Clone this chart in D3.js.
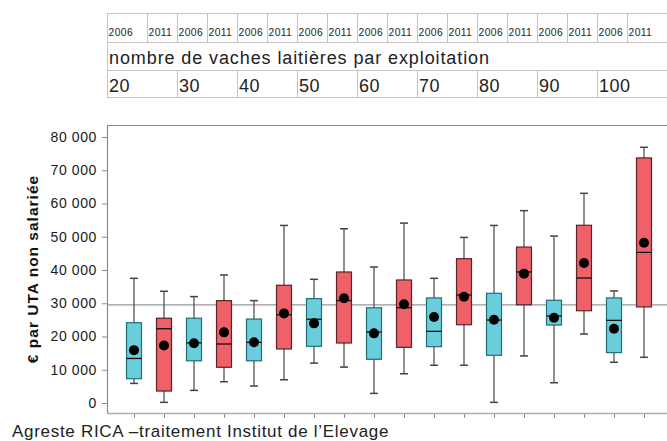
<!DOCTYPE html>
<html>
<head>
  <meta charset="UTF-8">
  <style>
    body { margin: 0; background: #fff; }
    svg { display: block; font-family: "Liberation Sans", Arial, sans-serif; }
  </style>
</head>
<body>
  <script src="https://d3js.org/d3.v7.min.js"></script>
  <script>
    // taille de troupeau (vaches laitières) et années
    var tailles = ['20', '30', '40', '50', '60', '70', '80', '90', '100'];
    var annees = ['2006', '2011'];
    var titreTable = 'nombre de vaches laitières par exploitation';

    // une boite par (taille, année), dans l'ordre 20-2006, 20-2011, 30-2006 ...
    var basMoustache = [5900, 200, 3800, 6400, 5100, 7000, 12000, 10800, 2900, 8800, 11350, 11350, 200, 14150, 6100, 20750, 12250, 13750];
    var q1 = [7300, 3600, 12700, 10750, 12700, 16250, 17050, 18050, 13150, 16750, 16950, 23550, 14350, 29550, 23450, 27750, 15150, 28900];
    var mediane = [13400, 22350, 18100, 17750, 18250, 26550, 25200, 30800, 21350, 28650, 21550, 32500, 24950, 39400, 26150, 37600, 24850, 45300];
    var q3 = [24150, 25500, 25500, 30800, 25250, 35400, 31400, 39400, 28650, 37000, 31600, 43400, 33000, 46900, 30900, 53450, 31600, 73700];
    var hautMoustache = [37500, 33600, 32000, 38500, 30800, 53400, 37200, 52400, 40900, 54100, 37500, 49800, 53400, 57850, 50200, 63050, 33700, 76900];
    var moyenne = [15900, 17300, 17950, 21250, 18250, 26950, 23950, 31500, 20950, 29700, 25850, 31950, 25050, 38900, 25650, 42100, 22350, 48200];

    var ligneRef = 29500;
    var yTicks = [0, 10000, 20000, 30000, 40000, 50000, 60000, 70000, 80000];

    var W = 667, H = 441;
    var svg = d3.select('body').append('svg').attr('width', W).attr('height', H);

    var boites = [];
    tailles.forEach(function(t, i) {
      annees.forEach(function(a, j) {
        var k = i * 2 + j;
        boites.push({ k: k, taille: t, annee: a, lo: basMoustache[k], q1: q1[k], med: mediane[k], q3: q3[k], hi: hautMoustache[k], moy: moyenne[k] });
      });
    });

    var x = d3.scalePoint().domain(d3.range(boites.length)).range([134, 644]);
    var y = d3.scaleLinear().domain([-3000, 83600]).range([413, 125]);
    var gauche = 107, droite = 667;

    // ---- tableau en haut
    var table = svg.append('g');
    var grisTable = '#c4c4c4';
    [13, 42, 70, 97].forEach(function(yy) {
      table.append('line').attr('x1', gauche).attr('x2', droite).attr('y1', yy + 0.5).attr('y2', yy + 0.5)
        .attr('stroke', grisTable);
    });
    table.append('line').attr('x1', gauche + 0.5).attr('x2', gauche + 0.5).attr('y1', 13).attr('y2', 97).attr('stroke', grisTable);

    // ligne des années
    boites.forEach(function(b, i) {
      var x0 = i === 0 ? gauche : x(i) - 17;
      if (i > 0) {
        table.append('line').attr('x1', Math.round(x0) + 0.5).attr('x2', Math.round(x0) + 0.5)
          .attr('y1', 13).attr('y2', 42).attr('stroke', grisTable);
      }
      table.append('text').attr('x', x0 + 1.5).attr('y', 36)
        .attr('font-size', 10.3).attr('letter-spacing', 0.4).attr('fill', '#222').text(b.annee);
    });

    table.append('text').attr('x', gauche + 2).attr('y', 64)
      .attr('font-size', 18).attr('letter-spacing', 0.9).attr('fill', '#222').text(titreTable);

    // ligne des tailles
    tailles.forEach(function(t, i) {
      var x0 = i === 0 ? gauche : x(i * 2) - 17;
      if (i > 0) {
        table.append('line').attr('x1', Math.round(x0) + 0.5).attr('x2', Math.round(x0) + 0.5)
          .attr('y1', 70).attr('y2', 97).attr('stroke', grisTable);
      }
      table.append('text').attr('x', x0 + 2).attr('y', 92)
        .attr('font-size', 18).attr('letter-spacing', 0.5).attr('fill', '#222').text(t);
    });

    // ---- cadre du graphique
    var gris = '#8a8a8a';
    svg.append('line').attr('x1', gauche).attr('x2', droite).attr('y1', 125.5).attr('y2', 125.5).attr('stroke', gris).attr('stroke-width', 1.2);
    svg.append('line').attr('x1', gauche + 0.5).attr('x2', gauche + 0.5).attr('y1', 125).attr('y2', 413).attr('stroke', gris).attr('stroke-width', 1.2);

    // axe Y
    var fmt = function(v) { return d3.format(',')(v).replace(/,/g, ' '); };
    var axeY = svg.append('g').attr('transform', 'translate(' + gauche + ',0)')
      .call(d3.axisLeft(y).tickValues(yTicks).tickSize(5).tickPadding(5).tickFormat(fmt));
    axeY.select('.domain').remove();
    axeY.selectAll('.tick line').attr('stroke', gris);
    axeY.selectAll('.tick text').attr('font-size', 14).attr('letter-spacing', 0.6).attr('fill', '#1a1a1a')
      .attr('font-family', '"Liberation Sans", Arial, sans-serif');

    // axe X
    var axeX = svg.append('g').attr('transform', 'translate(0,413)')
      .call(d3.axisBottom(x).tickSize(5).tickFormat(''));
    axeX.select('.domain').remove();
    axeX.selectAll('.tick line').attr('stroke', gris);
    svg.append('line').attr('x1', gauche).attr('x2', droite).attr('y1', 413.5).attr('y2', 413.5).attr('stroke', '#aaa').attr('stroke-width', 1.5);

    // ligne de référence
    svg.append('line').attr('x1', gauche).attr('x2', droite)
      .attr('y1', y(ligneRef)).attr('y2', y(ligneRef)).attr('stroke', '#999').attr('stroke-width', 1.2);

    // titre axe Y
    svg.append('text').attr('transform', 'translate(38,269) rotate(-90)')
      .attr('text-anchor', 'middle').attr('font-size', 15.5).attr('letter-spacing', 1)
      .attr('font-weight', 'bold').attr('fill', '#111')
      .text('€ par UTA non salariée');

    // ---- boites
    var bw = 15, cap = 8;
    var g = svg.selectAll('.boite').data(boites).enter().append('g').attr('class', 'boite');

    g.append('line').attr('x1', function(d) { return x(d.k); }).attr('x2', function(d) { return x(d.k); })
      .attr('y1', function(d) { return y(d.hi); }).attr('y2', function(d) { return y(d.lo); })
      .attr('stroke', '#555').attr('stroke-width', 1.3);
    g.append('line').attr('x1', function(d) { return x(d.k) - cap / 2; }).attr('x2', function(d) { return x(d.k) + cap / 2; })
      .attr('y1', function(d) { return y(d.hi); }).attr('y2', function(d) { return y(d.hi); })
      .attr('stroke', '#444').attr('stroke-width', 1.5);
    g.append('line').attr('x1', function(d) { return x(d.k) - cap / 2; }).attr('x2', function(d) { return x(d.k) + cap / 2; })
      .attr('y1', function(d) { return y(d.lo); }).attr('y2', function(d) { return y(d.lo); })
      .attr('stroke', '#444').attr('stroke-width', 1.5);
    g.append('rect').attr('x', function(d) { return x(d.k) - bw / 2; }).attr('width', bw)
      .attr('y', function(d) { return y(d.q3); }).attr('height', function(d) { return y(d.q1) - y(d.q3); })
      .attr('fill', function(d) { return d.annee === '2006' ? '#6acddc' : '#f06068'; })
      .attr('stroke', function(d) { return d.annee === '2006' ? '#1f6e78' : '#5a2326'; })
      .attr('stroke-width', 1.2);
    g.append('line').attr('x1', function(d) { return x(d.k) - bw / 2; }).attr('x2', function(d) { return x(d.k) + bw / 2; })
      .attr('y1', function(d) { return y(d.med); }).attr('y2', function(d) { return y(d.med); })
      .attr('stroke', '#111').attr('stroke-width', 1.3);
    g.append('circle').attr('cx', function(d) { return x(d.k); }).attr('cy', function(d) { return y(d.moy); })
      .attr('r', 5).attr('fill', '#000');

    // source
    svg.append('text').attr('x', 12).attr('y', 437).attr('font-size', 17).attr('letter-spacing', 0.7).attr('fill', '#222')
      .text('Agreste RICA –traitement Institut de l’Elevage');
  </script>
</body>
</html>
